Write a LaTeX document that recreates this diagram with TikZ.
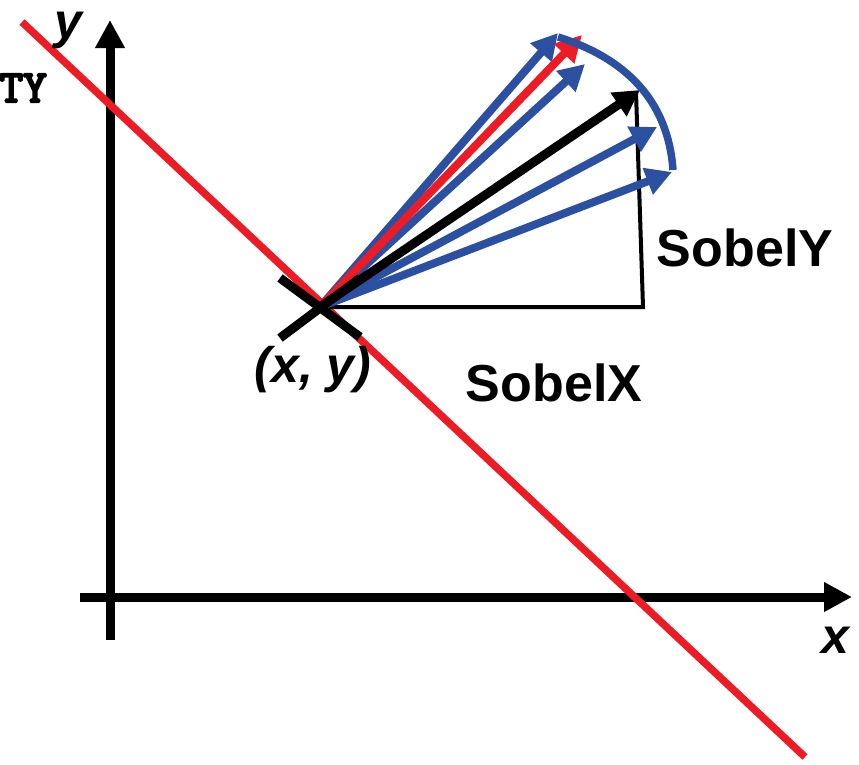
\documentclass[tikz,border=0pt]{standalone}
\usepackage{fontspec}
\setmainfont{Liberation Sans}
\newfontfamily\tyfont{Latin Modern Mono}
\newcommand{\strokedtext}[1]{\special{pdf:code 2 Tr 2.2 w}#1\special{pdf:code 0 Tr 1 w}}
\usetikzlibrary{arrows.meta}
\definecolor{myblue}{RGB}{43,80,162}
\definecolor{myred}{RGB}{237,28,36}
\begin{document}
\begin{tikzpicture}[x=1pt,y=-1pt,
  axis/.style={line width=9pt,-{Triangle[length=28pt,width=28pt]}},
  vec/.style={line width=8pt,-{Triangle[length=26pt,width=27pt]}},
  lbl/.style={font=\fontsize{52}{60}\selectfont\bfseries, inner sep=0pt},
  ilbl/.style={font=\fontsize{50}{60}\selectfont\bfseries\itshape, inner sep=0pt},
]
\useasboundingbox (0,0) rectangle (859,764);
% axes
\coordinate (ybot) at (110,640);
\coordinate (ytop) at (110,20);
\coordinate (xl) at (80,597);
\coordinate (xr) at (852,597);
\draw[axis] (ybot) -- (ytop);
\draw[axis] (xl) -- (xr);
% red line
\coordinate (r1) at (22,22);
\coordinate (r2) at (805,757);
\draw[myred, line width=7.5pt] (r1) -- (r2);
% origin and triangle
\coordinate (O) at (320,307);
\coordinate (sx) at (643,307);
\coordinate (sy) at (636,92);
\draw[line width=4pt, line join=miter] (O) -- (sx) -- (sy);
% blue vectors
\coordinate (b1) at (558,33);
\coordinate (b2) at (585,64);
\coordinate (b3) at (657,127);
\coordinate (b4) at (672,172);
\foreach \b in {b1,b2,b3,b4} \draw[vec, myblue] (O) -- (\b);
% red vector
\coordinate (rt) at (582,35);
\draw[vec, myred] (O) -- (rt);
% black vector
\coordinate (bt) at (640,90);
\draw[vec, black, line width=9pt] (O) -- (bt);
% arc
\coordinate (a0) at (558,37);
\coordinate (a1) at (673,170);
\draw[myblue, line width=7.5pt] (a0) .. controls (625,58) and (668,100) .. (a1);
% cross
\coordinate (c1) at (280,278);
\coordinate (c2) at (360,337);
\coordinate (c3) at (280,338);
\coordinate (c4) at (360,278);
\draw[line width=9pt] (c1) -- (c2);
\draw[line width=9pt] (c3) -- (c4);
% labels
\node[lbl] (SY) at (745,248) {SobelY};
\node[lbl] (SX) at (554,383) {SobelX};
\node[ilbl] (XY) at (313,370) {(x, y)};
\node[ilbl] (ylab) at (68,30) {y};
\node[ilbl] (xlab) at (835,640) {x};
\node[font=\fontsize{46}{50}\selectfont\tyfont, inner sep=0pt, anchor=east] (TY) at (47,88) {\strokedtext{TY}};
\end{tikzpicture}
\end{document}
